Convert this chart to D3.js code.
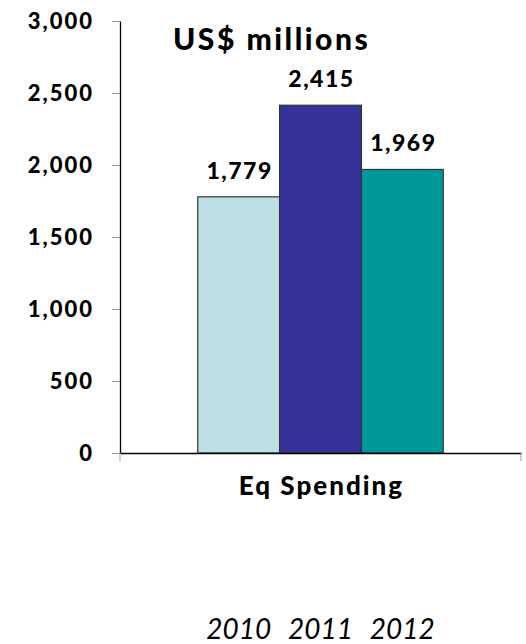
<!DOCTYPE html>
<html>
<head>
<meta charset="utf-8">
<script src="https://cdn.jsdelivr.net/npm/d3@7"></script>
<style>
  body { margin: 0; background: #fff; }
  svg text { font-family: "Lato", "Open Sans", sans-serif; fill: #000; }
</style>
</head>
<body>
<div id="chart"></div>
<script>
// Data
const categories = ['Eq Spending'];
const years = ['2010', '2011', '2012'];
const values = [1779, 2415, 1969];
const yTicks = [0, 500, 1000, 1500, 2000, 2500, 3000];
const colors = ['#BCE0E3', '#35339A', '#009999'];

const width = 526, height = 644;
const margin = { top: 21, right: 5, bottom: 191, left: 120 };

const svg = d3.select('#chart').append('svg')
  .attr('width', width)
  .attr('height', height);

const x = d3.scaleBand()
  .domain(categories)
  .range([margin.left, width - margin.right]);

const xSub = d3.scaleBand()
  .domain(years)
  .range([0, x.bandwidth()])
  .paddingOuter(0.95);

const y = d3.scaleLinear()
  .domain([0, 3000])
  .range([height - margin.bottom, margin.top]);

const fmt = d3.format(',');

// y axis
const yAxis = svg.append('g')
  .attr('transform', `translate(${margin.left},0)`)
  .call(d3.axisLeft(y).tickValues(yTicks).tickFormat(fmt).tickSize(8).tickSizeOuter(0));
yAxis.select('.domain').attr('stroke', '#000').attr('stroke-width', 1.3);
yAxis.selectAll('.tick line').attr('stroke', '#999');
yAxis.selectAll('.tick text')
  .attr('x', -26)
  .attr('dy', '0.36em')
  .style('font-size', '22px')
  .style('font-weight', '900')
  .style('letter-spacing', '2px');

// bars
const bars = svg.append('g');
years.forEach((yr, i) => {
  const x0 = x(categories[0]) + xSub(yr);
  bars.append('rect')
    .attr('x', x0)
    .attr('y', y(values[i]))
    .attr('width', xSub.bandwidth())
    .attr('height', y(0) - y(values[i]))
    .attr('fill', colors[i])
    .attr('stroke', '#333')
    .attr('stroke-width', 1.2);
  bars.append('text')
    .attr('x', x0 + xSub.bandwidth() / 2 + 1)
    .attr('y', y(values[i]) - 18)
    .attr('text-anchor', 'middle')
    .style('font-size', '23px')
    .style('font-weight', '900')
    .style('letter-spacing', '1.5px')
    .text(fmt(values[i]));
});

// x axis
const xAxis = svg.append('g')
  .attr('transform', `translate(0,${y(0)})`)
  .call(d3.axisBottom(x).tickSize(0).tickSizeOuter(0));
xAxis.select('.domain').attr('stroke', '#000').attr('stroke-width', 1.3);
xAxis.selectAll('.tick text')
  .attr('x', 1)
  .attr('y', 42)
  .attr('dy', 0)
  .style('font-size', '26px')
  .style('font-weight', '900')
  .style('letter-spacing', '2px');
[margin.left, width - margin.right].forEach(px => {
  xAxis.append('line')
    .attr('x1', px).attr('x2', px)
    .attr('y1', 0).attr('y2', 8)
    .attr('stroke', '#999');
});

// title
svg.append('text')
  .attr('x', 173)
  .attr('y', 50)
  .style('font-size', '30px')
  .style('font-weight', '900')
  .style('letter-spacing', '2.5px')
  .text('US$ millions');

// legend years
years.forEach((yr) => {
  svg.append('text')
    .attr('x', x(categories[0]) + xSub(yr) + xSub.bandwidth() / 2)
    .attr('y', 639)
    .attr('text-anchor', 'middle')
    .style('font-size', '28px')
    .style('font-style', 'italic')
    .text(yr);
});
</script>
</body>
</html>
